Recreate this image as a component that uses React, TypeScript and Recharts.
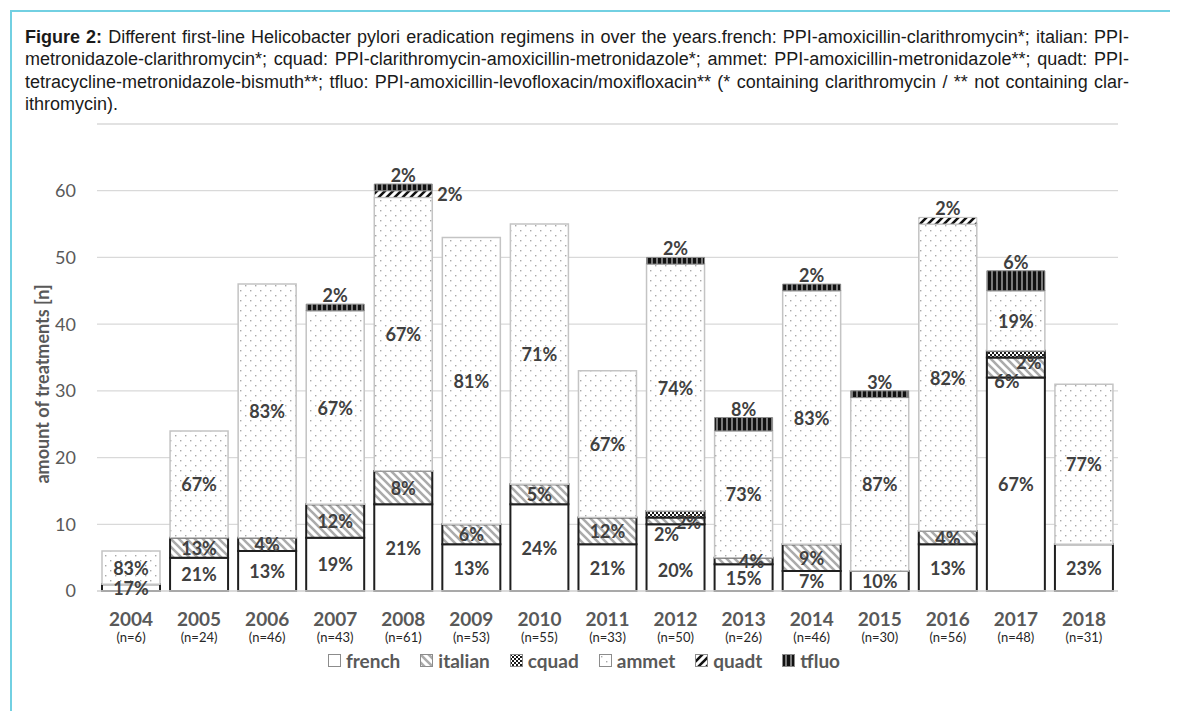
import React from "react";
import { BarChart, Bar, XAxis, YAxis, CartesianGrid, LabelList } from "recharts";

const years = ["2004", "2005", "2006", "2007", "2008", "2009", "2010", "2011", "2012", "2013", "2014", "2015", "2016", "2017", "2018"];
const french = [1, 5, 6, 8, 13, 7, 13, 7, 10, 4, 3, 3, 7, 32, 7];
const italian = [0, 3, 2, 5, 5, 3, 3, 4, 1, 1, 4, 0, 2, 3, 0];
const cquad = [0, 0, 0, 0, 0, 0, 0, 0, 1, 0, 0, 0, 0, 1, 0];
const ammet = [5, 16, 38, 29, 41, 43, 39, 22, 37, 19, 38, 26, 46, 9, 24];
const quadt = [0, 0, 0, 0, 1, 0, 0, 0, 0, 0, 0, 0, 1, 0, 0];
const tfluo = [0, 0, 0, 1, 1, 0, 0, 0, 1, 2, 1, 1, 0, 3, 0];
const yTicks = [0, 10, 20, 30, 40, 50, 60];

const data = years.map((year, i) => ({
  year,
  french: french[i],
  italian: italian[i],
  cquad: cquad[i],
  ammet: ammet[i],
  quadt: quadt[i],
  tfluo: tfluo[i],
  total: french[i] + italian[i] + cquad[i] + ammet[i] + quadt[i] + tfluo[i],
}));

const series = [
  { key: "french", fill: "#ffffff", stroke: "#1f1f1f", sw: 2 },
  { key: "italian", fill: "url(#pat-italian)", stroke: "#1f1f1f", sw: 2 },
  { key: "cquad", fill: "url(#pat-cquad)", stroke: "#1f1f1f", sw: 2 },
  { key: "ammet", fill: "url(#pat-ammet)", stroke: "#c4c4c4", sw: 1.5 },
  { key: "quadt", fill: "url(#pat-quadt)", stroke: "#bfbfbf", sw: 1 },
  { key: "tfluo", fill: "url(#pat-tfluo)", stroke: "#8c8c8c", sw: 1 },
];

const FONT = "Lato, 'Open Sans', sans-serif";
const TEXT = "#404040";
const AXIS = "#595959";

// label text comes from the row (found by year), so skipped zero bars don't shift things
function makeLabel(key: string) {
  return (props: any) => {
    const { viewBox, value } = props;
    const row: any = data.find((d) => d.year === value);
    if (!row || !row[key] || !viewBox) return null;
    const v = row[key];
    const top = Math.min(viewBox.y, viewBox.y + viewBox.height);
    const h = Math.abs(viewBox.height);
    const cx = viewBox.x + viewBox.width / 2;
    let lx = cx;
    let ly = top + h / 2;
    let anchor: "middle" | "start" = "middle";
    if (key === "tfluo") {
      ly = top - 9;
    } else if (key === "quadt") {
      if (row.tfluo) {
        lx = viewBox.x + viewBox.width + 5;
        anchor = "start";
      } else ly = top - 9;
    } else if (key === "cquad") {
      lx = cx + 13;
      ly = top + h / 2 + 8;
    } else if (key === "italian" && row.cquad) {
      // cquad label sits here, so push italian's down-left
      lx = cx - 9;
      ly = top + h / 2 + 13;
    } else if (key === "italian" && h < 10) {
      lx = cx + 8;
    } else if (key === "french" && row.cquad && h < 120) {
      ly = top + h / 2 + 12;
    }
    const pct = Math.round((v / row.total) * 100) + "%";
    return (
      <text
        x={lx}
        y={ly}
        textAnchor={anchor}
        dominantBaseline="central"
        fontFamily={FONT}
        fontWeight={700}
        fontSize={18}
        fill={TEXT}
      >
        {pct}
      </text>
    );
  };
}

function YearTick({ x, y, payload }: any) {
  const row = data.find((d) => d.year === payload.value);
  return (
    <g>
      <text x={x} y={y + 35} textAnchor="middle" fontFamily={FONT} fontWeight={700} fontSize={19} fill={AXIS}>
        {payload.value}
      </text>
      <text x={x} y={y + 51} textAnchor="middle" fontFamily={FONT} fontSize={13} fill="#262626">
        (n={row ? row.total : ""})
      </text>
    </g>
  );
}

function Patterns() {
  return (
    <defs>
      <pattern id="pat-italian" patternUnits="userSpaceOnUse" width="8" height="8">
        <rect width="8" height="8" fill="#ffffff" />
        <path d="M-2,-2 L10,10 M-2,6 L2,10 M6,-2 L10,2" stroke="#ababab" strokeWidth="2.6" />
      </pattern>
      <pattern id="pat-cquad" patternUnits="userSpaceOnUse" width="4" height="4">
        <rect width="4" height="4" fill="#ffffff" />
        <rect x="0" y="0" width="2" height="2" fill="#1a1a1a" />
        <rect x="2" y="2" width="2" height="2" fill="#1a1a1a" />
      </pattern>
      <pattern id="pat-ammet" patternUnits="userSpaceOnUse" width="10" height="10">
        <rect width="10" height="10" fill="#ffffff" />
        <rect x="2" y="2" width="1.4" height="1.4" fill="#a8a8a8" />
        <rect x="7" y="7" width="1.4" height="1.4" fill="#a8a8a8" />
      </pattern>
      <pattern id="pat-quadt" patternUnits="userSpaceOnUse" width="8" height="8">
        <rect width="8" height="8" fill="#ffffff" />
        <path d="M-2,10 L10,-2 M-2,2 L2,-2 M6,10 L10,6" stroke="#111111" strokeWidth="2.6" />
      </pattern>
      <pattern id="pat-tfluo" patternUnits="userSpaceOnUse" width="5" height="5">
        <rect width="5" height="5" fill="#7a7a7a" />
        <rect x="0" y="0" width="3" height="5" fill="#111111" />
      </pattern>
    </defs>
  );
}

function LegendRow() {
  return (
    <div
      style={{
        position: "absolute",
        left: 0,
        top: 641,
        width: 1152,
        display: "flex",
        justifyContent: "center",
        gap: 20,
        fontFamily: FONT,
        fontWeight: 700,
        fontSize: 19,
        color: AXIS,
      }}
    >
      {series.map((s) => (
        <div key={s.key} style={{ display: "flex", alignItems: "center", gap: 5 }}>
          <svg width="13" height="13">
            <rect x="0.5" y="0.5" width="12" height="12" fill={s.fill} stroke="#8c8c8c" strokeWidth="1" />
          </svg>
          <span>{s.key}</span>
        </div>
      ))}
    </div>
  );
}

const titleLines = [
  "Different first-line Helicobacter pylori eradication regimens in over the years.french: PPI-amoxicillin-clarithromycin*; italian: PPI-",
  "metronidazole-clarithromycin*; cquad: PPI-clarithromycin-amoxicillin-metronidazole*; ammet: PPI-amoxicillin-metronidazole**; quadt: PPI-",
  "tetracycline-metronidazole-bismuth**; tfluo: PPI-amoxicillin-levofloxacin/moxifloxacin** (* containing clarithromycin / ** not containing clar-",
  "ithromycin).",
];

export default function App() {
  const lineStyle: React.CSSProperties = { textAlign: "justify", textAlignLast: "justify" };
  return (
    <div style={{ position: "relative", width: 1170, height: 703, overflow: "hidden" }}>
      <div
        style={{
          position: "absolute",
          left: 2,
          top: 2,
          width: 1162,
          height: 720,
          border: "2px solid #72d0e2",
        }}
      />
      <div
        style={{
          position: "absolute",
          left: 17,
          top: 18,
          width: 1104,
          fontFamily: "'Liberation Sans', Arial, sans-serif",
          fontSize: 18,
          lineHeight: "22.3px",
          color: "#1a1a1a",
        }}
      >
        <div style={lineStyle}>
          <b>Figure 2:</b> {titleLines[0]}
        </div>
        <div style={lineStyle}>{titleLines[1]}</div>
        <div style={lineStyle}>{titleLines[2]}</div>
        <div style={{ whiteSpace: "nowrap" }}>{titleLines[3]}</div>
      </div>
      <div style={{ position: "absolute", left: 0, top: 0 }}>
        <BarChart
          width={1170}
          height={680}
          data={data}
          margin={{ top: 116, right: 60, bottom: 47, left: 29 }}
          barSize={58}
        >
          <Patterns />
          <CartesianGrid vertical={false} stroke="#d9d9d9" strokeWidth={1.3} />
          <XAxis
            dataKey="year"
            height={50}
            tick={YearTick as any}
            tickLine={false}
            tickSize={0}
            tickMargin={0}
            axisLine={{ stroke: "#d9d9d9", strokeWidth: 1.3 }}
            interval={0}
          />
          <YAxis
            width={60}
            domain={[0, 70]}
            ticks={yTicks}
            tickLine={false}
            axisLine={false}
            tickSize={0}
            tickMargin={21}
            tick={{ fontFamily: FONT, fontSize: 18, fill: AXIS }}
            label={(() => (
              <text
                x={34}
                y={376}
                transform="rotate(-90 34 376)"
                textAnchor="middle"
                dominantBaseline="central"
                fontFamily={FONT}
                fontWeight={700}
                fontSize={18}
                fill={AXIS}
              >
                amount of treatments [n]
              </text>
            )) as any}
          />
          {series.map((s) => (
            <Bar
              key={s.key}
              dataKey={s.key}
              stackId="a"
              fill={s.fill}
              stroke={s.stroke}
              strokeWidth={s.sw}
              isAnimationActive={false}
            >
              <LabelList dataKey="year" content={makeLabel(s.key) as any} />
            </Bar>
          ))}
        </BarChart>
      </div>
      <LegendRow />
    </div>
  );
}
